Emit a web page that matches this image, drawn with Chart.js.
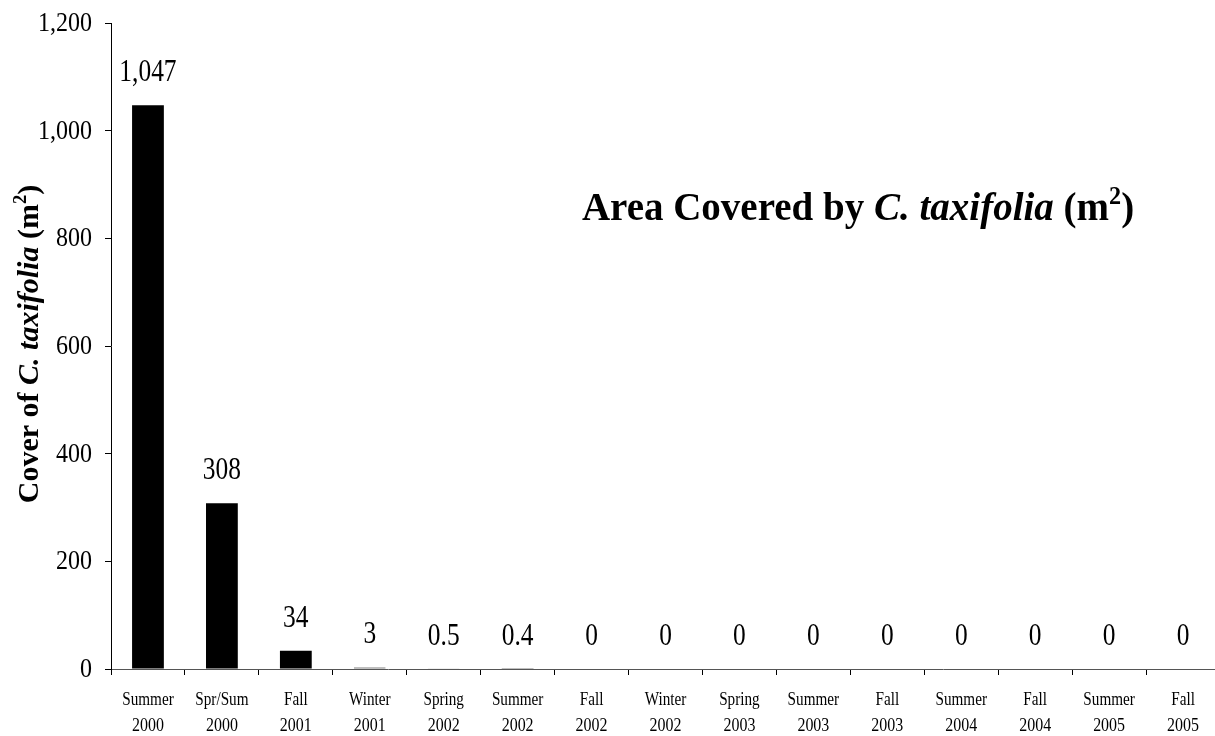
<!DOCTYPE html>
<html>
<head>
<meta charset="utf-8">
<script src="https://cdn.jsdelivr.net/npm/chart.js@4"></script>
<style>
  html, body { margin: 0; padding: 0; background: #fff; overflow: hidden; }
  canvas { display: block; }
</style>
</head>
<body>
<canvas id="coverChart" width="1220" height="736"></canvas>
<script>
// categories (season / year) and cover values in m2
const seasons = ['Summer', 'Spr/Sum', 'Fall', 'Winter', 'Spring', 'Summer', 'Fall', 'Winter',
                 'Spring', 'Summer', 'Fall', 'Summer', 'Fall', 'Summer', 'Fall'];
const years = ['2000', '2000', '2001', '2001', '2002', '2002', '2002', '2002',
               '2003', '2003', '2003', '2004', '2004', '2005', '2005'];
const cover = [1047, 308, 34, 3, 0.5, 0.4, 0, 0, 0, 0, 0, 0, 0, 0, 0];
const yTicks = [0, 200, 400, 600, 800, 1000, 1200];

const serif = '"Liberation Serif", "Times New Roman", serif';

// narrow text, like the original's tight serif
function narrowText(ctx, text, x, y, sx) {
    ctx.save();
    ctx.translate(x, y);
    ctx.scale(sx, 1);
    ctx.fillText(text, 0, 0);
    ctx.restore();
}

// draws a row of text pieces with their own styles
function drawRich(ctx, parts, size, x, y) {
    const fontOf = p => `${p.italic ? 'italic ' : ''}bold ${p.sup ? size * 0.62 : size}px ${serif}`;
    let total = 0;
    const widths = parts.map(p => {
        ctx.font = fontOf(p);
        const w = ctx.measureText(p.t).width;
        total += w;
        return w;
    });
    let cx = x - total / 2;
    parts.forEach((p, i) => {
        ctx.font = fontOf(p);
        ctx.fillText(p.t, cx, p.sup ? y - size * 0.4 : y);
        cx += widths[i];
    });
}

const textPlugin = {
    id: 'texts',
    afterDraw(chart) {
        const ctx = chart.ctx;
        const xs = chart.scales.x;
        const ys = chart.scales.y;
        ctx.save();
        ctx.fillStyle = '#000';

        // y tick labels
        ctx.font = `27px ${serif}`;
        ctx.textAlign = 'right';
        ctx.textBaseline = 'middle';
        ys.ticks.forEach(t => {
            narrowText(ctx, t.value.toLocaleString('en-US'), ys.right - 19, ys.getPixelForValue(t.value) + 1, 0.89);
        });

        // x tick labels (two lines)
        ctx.font = `19px ${serif}`;
        ctx.textAlign = 'center';
        seasons.forEach((s, i) => {
            const x = xs.getPixelForValue(i);
            narrowText(ctx, s, x, xs.top + 31, 0.8);
            narrowText(ctx, years[i], x, xs.top + 57, 0.84);
        });

        // value labels over bars
        ctx.textBaseline = 'alphabetic';
        ctx.font = `31px ${serif}`;
        const meta = chart.getDatasetMeta(0);
        meta.data.forEach((bar, i) => {
            narrowText(ctx, cover[i].toLocaleString('en-US'), bar.x, bar.y - 24, 0.82);
        });

        // title inside plot
        ctx.textAlign = 'left';
        const titleParts = [
            { t: 'Area Covered by ' },
            { t: 'C. taxifolia', italic: true },
            { t: ' (m' },
            { t: '2', sup: true },
            { t: ')' }
        ];
        drawRich(ctx, titleParts, 39, 858, 220);

        // y axis title
        ctx.translate(38, 344);
        ctx.rotate(-Math.PI / 2);
        const yParts = [
            { t: 'Cover of ' },
            { t: 'C. taxifolia', italic: true },
            { t: ' (m' },
            { t: '2', sup: true },
            { t: ')' }
        ];
        drawRich(ctx, yParts, 30, 0, 0);
        ctx.restore();
    }
};

const ctx = document.getElementById('coverChart').getContext('2d');
new Chart(ctx, {
    type: 'bar',
    data: {
        labels: seasons.map((s, i) => s + ' ' + years[i]),
        datasets: [{
            data: cover,
            backgroundColor: '#000',
            borderColor: '#000',
            // tiny bars still show as a thin dark mark
            borderWidth: c => (cover[c.dataIndex] >= 0.5 && cover[c.dataIndex] < 10 ? 1 : 0),
            barPercentage: 0.43,
            categoryPercentage: 1
        }]
    },
    options: {
        responsive: false,
        animation: false,
        layout: { padding: { top: 23, left: 0, right: 0, bottom: 0 } },
        plugins: {
            legend: { display: false },
            tooltip: { enabled: false }
        },
        scales: {
            x: {
                offset: true,
                grid: { drawOnChartArea: false, tickLength: 6, color: '#000', offset: true },
                border: { color: '#555', width: 1 },
                ticks: { display: false, autoSkip: false },
                afterFit(scale) { scale.height = 67; }
            },
            y: {
                min: 0,
                max: 1200,
                afterBuildTicks(scale) { scale.ticks = yTicks.map(v => ({ value: v })); },
                grid: { drawOnChartArea: false, tickLength: 6, color: '#000' },
                border: { color: '#000', width: 1 },
                ticks: { display: false },
                afterFit(scale) { scale.width = 111; }
            }
        }
    },
    plugins: [textPlugin]
});
</script>
</body>
</html>
